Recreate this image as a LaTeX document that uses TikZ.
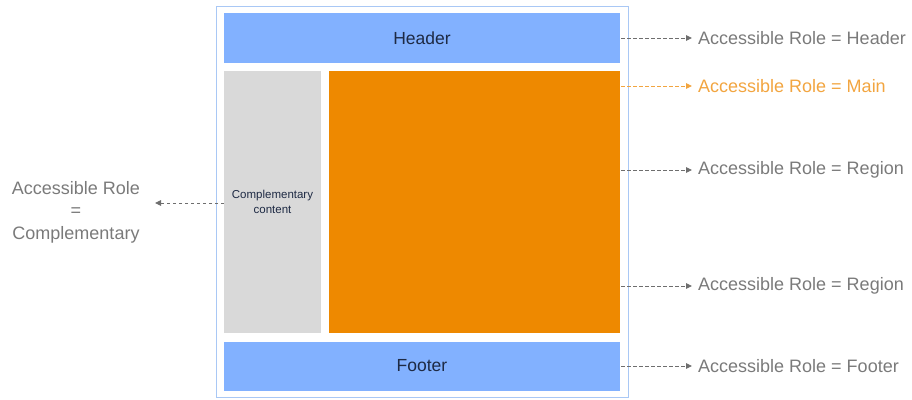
\documentclass[tikz,border=0pt]{standalone}
\usepackage{fontspec}
\setmainfont{Liberation Sans}
\usetikzlibrary{arrows.meta}
\definecolor{frameblue}{HTML}{A9C8F5}
\definecolor{barblue}{HTML}{82B1FF}
\definecolor{mainorange}{HTML}{EE8900}
\definecolor{sidegray}{HTML}{D9D9D9}
\definecolor{labelgray}{HTML}{7A7A7A}
\definecolor{labelorange}{HTML}{F2A540}
\definecolor{inktext}{HTML}{1E2A44}
\definecolor{arrowgray}{HTML}{6E6E6E}
\tikzset{
  region/.style={draw=none, inner sep=0pt, outer sep=0pt, text=inktext},
  role/.style={anchor=west, inner sep=0pt, font=\fontsize{18}{20}\selectfont, text=labelgray},
  link/.style={draw=arrowgray, dashed, dash pattern=on 3.5pt off 2.5pt, line width=0.9pt,
    -{Triangle[length=6pt,width=5.5pt]}},
}
\begin{document}
\begin{tikzpicture}[x=1pt,y=-1pt]
  \useasboundingbox (0,0) rectangle (912,399);
  % page outline
  \draw[frameblue, line width=0.8pt] (216,6) rectangle (628,397);
  % layout regions
  \fill[barblue] (224,13) rectangle (620,63);
  \node[region, font=\fontsize{17.5}{20}\selectfont] (header) at (422,38) {Header};
  \fill[sidegray] (224,71) rectangle (321,333);
  \node[region, align=center, font=\fontsize{11.5}{15}\selectfont] (comp) at (272.5,202) {Complementary\\content};
  \fill[mainorange] (329,71) rectangle (620,333);
  \fill[barblue] (224,342) rectangle (620,391);
  \node[region, font=\fontsize{17.5}{20}\selectfont] (footer) at (422,366) {Footer};
  % arrow end points on the region edges
  \coordinate (hR) at (621,38);
  \coordinate (mR) at (621,86);
  \coordinate (r1R) at (621,170);
  \coordinate (r2R) at (621,286);
  \coordinate (fR) at (621,366);
  \coordinate (cL) at (224,203);
  % role labels
  \node[role] (lh) at (698,38) {Accessible Role = Header};
  \node[role, text=labelorange] (lm) at (698,86) {Accessible Role = Main};
  \node[role] (lr1) at (698,170) {Accessible Role = Region};
  \node[role] (lr2) at (698,286) {Accessible Role = Region};
  \node[role] (lf) at (698,366) {Accessible Role = Footer};
  \node[inner sep=0pt, align=center, text=labelgray, font=\fontsize{18}{22.5}\selectfont] (lc) at (76,212) {Accessible Role\\=\\Complementary};
  % connectors
  \draw[link] (hR) -- ([xshift=-6pt]lh.west);
  \draw[link, draw=labelorange] (mR) -- ([xshift=-6pt]lm.west);
  \draw[link] (r1R) -- ([xshift=-6pt]lr1.west);
  \draw[link] (r2R) -- ([xshift=-6pt]lr2.west);
  \draw[link] (fR) -- ([xshift=-6pt]lf.west);
  \draw[link] (cL) -- (155,203);
\end{tikzpicture}
\end{document}
